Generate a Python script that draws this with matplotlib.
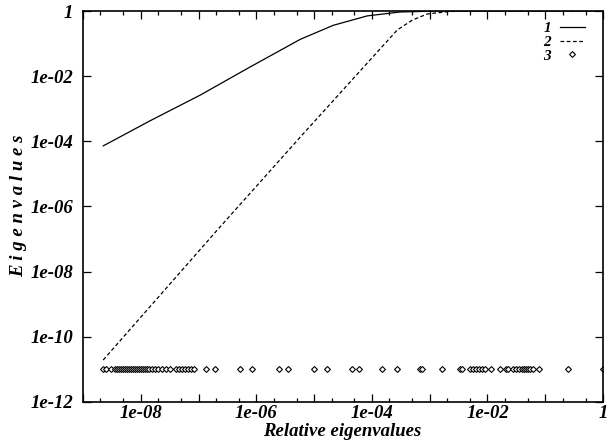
import matplotlib
matplotlib.use('Agg')
import matplotlib.pyplot as plt
import numpy as np
from matplotlib.ticker import FixedLocator, FixedFormatter, NullFormatter
from matplotlib.font_manager import FontProperties

# curve 1 (solid) as log10 values
c1_logx = [-8.65, -7.84, -6.97, -6.11, -5.24, -4.67, -4.08, -3.51, -2.82, 0.0]
c1_logy = [-4.14, -3.37, -2.58, -1.72, -0.87, -0.44, -0.15, -0.03, 0.0, 0.0]

# curve 2 (dashed)
c2_logx = [-8.65, -6.66, -5.24, -3.56, -3.30, -3.04, -2.65, -2.13, 0.0]
c2_logy = [-10.71, -6.69, -3.87, -0.58, -0.28, -0.09, -0.015, 0.0, 0.0]

# eigenvalue positions (diamonds), log10 of x
eig_logx = [-8.65, -8.60, -8.51, -8.44, -8.41, -8.37, -8.34, -8.30, -8.27, -8.23,
            -8.20, -8.17, -8.13, -8.10, -8.06, -8.03, -8.00, -7.96, -7.92, -7.89,
            -7.85, -7.80, -7.75, -7.70, -7.63, -7.56, -7.49, -7.39, -7.34, -7.28,
            -7.23, -7.18, -7.13, -7.08,
            -6.87, -6.71, -6.28, -6.08, -5.60, -5.46, -5.01, -4.78, -4.35, -4.23,
            -3.83, -3.56, -3.17, -3.13, -2.79, -2.47, -2.44,
            -2.30, -2.25, -2.20, -2.15, -2.09, -2.04, -1.93, -1.79, -1.68, -1.64,
            -1.56, -1.51, -1.45, -1.40, -1.37, -1.33, -1.30, -1.26, -1.21, -1.11,
            -0.60, 0.0]
eig_y = 1e-11

xtick_vals = [1e-8, 1e-6, 1e-4, 1e-2, 1]
xtick_labels = ['1e-08', '1e-06', '1e-04', '1e-02', '1']
ytick_vals = [1e-12, 1e-10, 1e-8, 1e-6, 1e-4, 1e-2, 1]
ytick_labels = ['1e-12', '1e-10', '1e-08', '1e-06', '1e-04', '1e-02', '1']

plt.rcParams['font.family'] = ['Liberation Serif', 'DejaVu Serif']
tfont = dict(family='Liberation Serif', weight='bold', style='italic', size=13.5)

fig = plt.figure(figsize=(6.16, 4.47), dpi=100)
ax = fig.add_axes([83/616, 1-402/447, 520/616, 391/447])

ax.plot(np.power(10.0, c1_logx), np.power(10.0, c1_logy), color='black', lw=0.9, label='1')
ax.plot(np.power(10.0, c2_logx), np.power(10.0, c2_logy), color='black', lw=0.9,
        dashes=(3, 2), label='2')
ax.plot(np.power(10.0, eig_logx), [eig_y] * len(eig_logx), ls='none', marker='D',
        markersize=3.0, markerfacecolor='white', markeredgecolor='black',
        markeredgewidth=0.8, label='3')

ax.set_xscale('log')
ax.set_yscale('log')
ax.set_xlim(1e-9, 1)
ax.set_ylim(1e-12, 1)

# x ticks: every decade major, 2 and 5 minor, labels on even decades
dec = [10.0 ** k for k in range(-9, 1)]
ax.xaxis.set_major_locator(FixedLocator(dec))
lab_map = dict(zip(xtick_vals, xtick_labels))
ax.xaxis.set_major_formatter(FixedFormatter([lab_map.get(v, '') for v in
    [1e-9, 1e-8, 1e-7, 1e-6, 1e-5, 1e-4, 1e-3, 1e-2, 1e-1, 1]]))
minors = [m * 10.0 ** k for k in range(-9, 0) for m in (2, 5)]
ax.xaxis.set_minor_locator(FixedLocator(minors))
ax.xaxis.set_minor_formatter(NullFormatter())

ax.yaxis.set_major_locator(FixedLocator(ytick_vals))
ax.yaxis.set_major_formatter(FixedFormatter(ytick_labels))
ax.yaxis.set_minor_locator(FixedLocator([]))

ax.tick_params(which='major', direction='in', length=6, width=0.9, top=True, right=True)
ax.tick_params(which='minor', direction='in', length=3, width=0.9, top=True, right=True)
ax.tick_params(axis='x', which='major', pad=2)
ax.tick_params(axis='y', which='major', pad=7)
for lab in ax.get_xticklabels() + ax.get_yticklabels():
    lab.set_fontproperties(FontProperties(**tfont))

for s in ax.spines.values():
    s.set_linewidth(1.2)

lfont = dict(tfont)
lfont['size'] = 11
leg = ax.legend(loc='upper right', bbox_to_anchor=(0.985, 1.0), frameon=False,
                markerfirst=False, handlelength=1.6, handletextpad=0.6,
                labelspacing=0.0, borderpad=0.2,
                prop=FontProperties(**lfont))

fig.text(342/616, 1-432/447, 'Relative eigenvalues', ha='center', va='center', **tfont)
fig.text(19/616, 1-206/447, 'E i g e n v a l u e s', ha='center', va='center',
         rotation=90, **tfont)

fig.savefig('out.png', dpi=100)
